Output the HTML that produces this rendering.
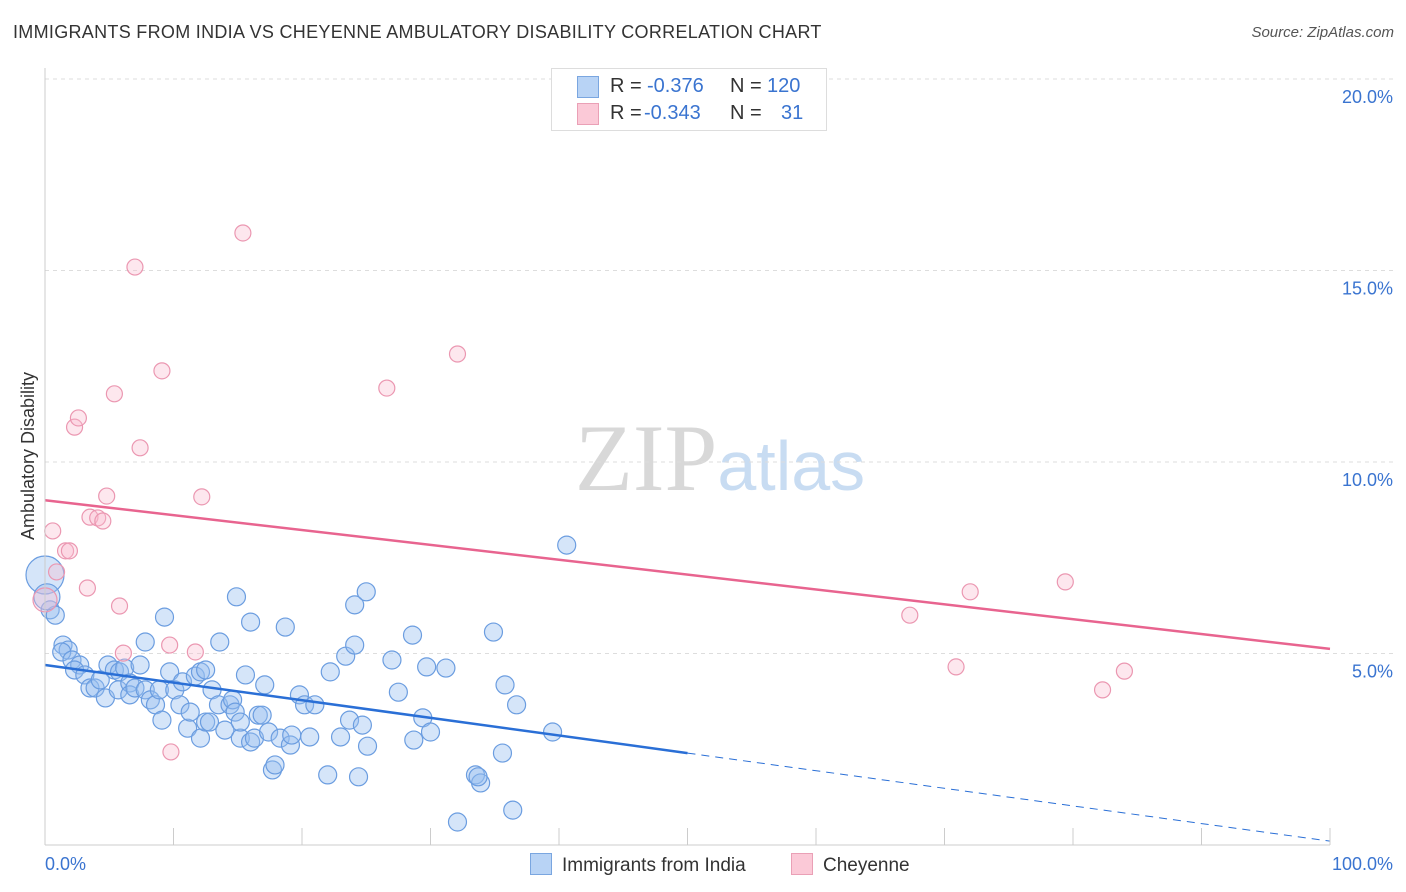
<!DOCTYPE html>
<html><head><meta charset="utf-8"><style>
html,body{margin:0;padding:0;background:#fff;width:1406px;height:892px;overflow:hidden}
body{font-family:"Liberation Sans",sans-serif;position:relative}
.t{position:absolute;white-space:nowrap}
.lg span{white-space:nowrap}
</style></head><body>
<div class="t" style="left:13px;top:22px;font-size:18px;color:#333;letter-spacing:0.3px">IMMIGRANTS FROM INDIA VS CHEYENNE AMBULATORY DISABILITY CORRELATION CHART</div>
<div class="t" style="right:12px;top:24px;font-size:15px;color:#555;font-style:italic">Source: ZipAtlas.com</div>
<svg id="chart" width="1406" height="892" style="position:absolute;left:0;top:0">
<text x="720" y="490" text-anchor="middle" font-family="Liberation Serif,serif" font-size="95" fill="#ddd"><tspan fill="#d8d8d8">ZIP</tspan><tspan font-family="Liberation Sans,sans-serif" font-size="70" fill="#c8dcf2">atlas</tspan></text>
<g id="grid"></g><g id="pts"></g><g id="lines"></g><g id="axes"></g>
<text x="34" y="456" transform="rotate(-90 34 456)" text-anchor="middle" font-size="18" fill="#333">Ambulatory Disability</text>
<text x="45" y="870" font-size="18" fill="#3a74d0">0.0%</text>
<text x="1393" y="870" text-anchor="end" font-size="18" fill="#3a74d0">100.0%</text>
</svg>
<div class="lg" style="position:absolute;left:551px;top:68px;width:274px;height:61px;border:1px solid #ddd;background:#fff;font-size:20px;color:#333">
 <div style="position:absolute;left:25px;top:6px;width:240px;height:24px"><span style="position:absolute;left:0;top:1px;width:20px;height:20px;background:#b8d3f5;border:1px solid #7aa6e0"></span><span style="position:absolute;left:33px;top:0">R =</span><span style="position:absolute;left:70px;color:#3a74d0">-0.376</span><span style="position:absolute;left:153px">N =</span><span style="position:absolute;left:190px;color:#3a74d0">120</span></div>
 <div style="position:absolute;left:25px;top:33px;width:240px;height:24px"><span style="position:absolute;left:0;top:1px;width:20px;height:20px;background:#fbc9d7;border:1px solid #eaa0b6"></span><span style="position:absolute;left:33px;top:0">R =</span><span style="position:absolute;left:67px;color:#3a74d0">-0.343</span><span style="position:absolute;left:153px">N =</span><span style="position:absolute;left:204px;color:#3a74d0">31</span></div>
</div>
<div style="position:absolute;left:530px;top:853px;font-size:19px;color:#333;white-space:nowrap"><span style="display:inline-block;width:20px;height:20px;background:#b8d3f5;border:1px solid #7aa6e0;vertical-align:-4px;margin-right:10px"></span>Immigrants from India</div>
<div style="position:absolute;left:791px;top:853px;font-size:19px;color:#333;white-space:nowrap"><span style="display:inline-block;width:20px;height:20px;background:#fbc9d7;border:1px solid #eaa0b6;vertical-align:-4px;margin-right:10px"></span>Cheyenne</div>
<script>
const yTicks=[5,10,15,20];
const yTickLabels=["5.0%","10.0%","15.0%","20.0%"];
const indiaX=[0,0.4,0.8,0.15,1.4,1.8,1.3,2.1,2.7,2.3,3.1,3.5,3.9,4.3,4.7,4.9,5.4,5.8,6.2,5.7,6.6,6.6,7.0,7.4,7.8,8.2,8.6,8.9,9.1,7.8,9.3,9.7,10.1,10.5,10.7,11.1,11.3,11.7,12.1,12.5,12.1,12.5,12.8,13.0,13.5,13.6,14.0,14.4,14.6,14.8,15.2,15.2,15.6,16.0,14.9,16.0,16.3,16.6,16.9,17.1,17.4,17.7,17.9,18.3,18.7,19.1,19.2,19.8,20.2,20.6,21.0,22.0,22.2,23.0,23.4,23.7,24.1,24.4,24.7,25.1,24.1,25.0,27.0,27.5,28.6,28.7,29.4,29.7,30.0,31.2,32.1,33.5,33.9,33.7,34.9,35.8,35.6,36.4,36.7,39.5,40.6];
const indiaY=[7.05,6.14,6.0,6.48,5.22,5.09,5.04,4.83,4.7,4.57,4.44,4.1,4.1,4.31,3.84,4.7,4.57,4.52,4.62,4.05,4.23,3.92,4.1,4.7,4.05,3.79,3.66,4.05,3.26,5.3,5.95,4.52,4.05,3.66,4.26,3.05,3.47,4.41,4.52,4.57,2.79,3.21,3.21,4.05,3.66,5.3,3.0,3.66,3.79,3.47,2.79,3.21,4.44,5.82,6.48,2.69,2.79,3.39,3.39,4.18,2.95,1.96,2.09,2.79,5.69,2.61,2.87,3.92,3.66,2.82,3.66,1.83,4.52,2.82,4.93,3.26,5.22,1.78,3.13,2.58,6.27,6.61,4.83,3.99,5.48,2.74,3.32,4.65,2.95,4.62,0.6,1.83,1.62,1.78,5.56,4.18,2.4,0.91,3.66,2.95,7.83];
const cheyX=[0,0.6,0.9,1.6,1.9,3.3,3.5,4.1,4.5,4.8,5.4,5.8,6.1,2.3,2.6,7.0,7.4,9.1,9.7,9.8,11.7,12.2,15.4,26.6,32.1,67.3,70.9,72.0,79.4,82.3,84.0];
const cheyY=[6.4,8.2,7.13,7.68,7.68,6.71,8.56,8.54,8.46,9.11,11.78,6.24,5.01,10.91,11.15,15.09,10.37,12.38,5.22,2.43,5.04,9.09,15.98,11.93,12.82,6.0,4.65,6.61,6.87,4.05,4.54];
const indiaTrend=[4.7,0.1];
const cheyTrend=[9.0,5.12];
const NS='http://www.w3.org/2000/svg';
const X=v=>45+v*12.85, Y=v=>845-v*38.3;
function mk(t,a,p){const e=document.createElementNS(NS,t);for(const k in a)e.setAttribute(k,a[k]);p.appendChild(e);return e;}
const grid=document.getElementById('grid'),pts=document.getElementById('pts'),lines=document.getElementById('lines'),axes=document.getElementById('axes');
yTicks.forEach((v,i)=>{
 const l=mk('line',{x1:45,x2:1393,y1:Y(v),y2:Y(v),stroke:'#ddd','stroke-dasharray':'4,4'},grid);
 
 
 const t=mk('text',{x:1393,y:Y(v)+24,'text-anchor':'end','font-size':18,fill:'#3a74d0'},axes);
 t.textContent=yTickLabels[i];
 
 
});
const ax=mk('line',{x1:45,x2:1330,y1:845,y2:845,stroke:'#ccc'},axes);


const ay=mk('line',{x1:45,x2:45,y1:68,y2:845,stroke:'#ccc'},axes);


for(let i=1;i<=10;i++){const tk=mk('line',{x1:X(i*10),x2:X(i*10),y1:828,y2:845,stroke:'#ccc'},axes);
 
 }
indiaX.forEach((x,i)=>{const r=(i===0)?19:(i===3?13:9);
 const c=mk('circle',{cx:X(x),cy:Y(indiaY[i]),r:r,fill:'rgba(150,190,240,0.4)',stroke:'#6b9de0','stroke-width':1.2},pts);
 
 });
cheyX.forEach((x,i)=>{const r=(i===0)?12:8;
 const c=mk('circle',{cx:X(x),cy:Y(cheyY[i]),r:r,fill:'rgba(248,185,205,0.35)',stroke:'#eb97b1','stroke-width':1.2},pts);
 
 });
const at=x=>indiaTrend[0]+(indiaTrend[1]-indiaTrend[0])*x/100;
const b1=mk('line',{x1:X(0),y1:Y(at(0)),x2:X(50),y2:Y(at(50)),stroke:'#2a6fd6','stroke-width':2.5},lines);


const b2=mk('line',{x1:X(50),y1:Y(at(50)),x2:X(100),y2:Y(at(100)),stroke:'#2a6fd6','stroke-width':1,'stroke-dasharray':'8,6'},lines);


const p1=mk('line',{x1:X(0),y1:Y(cheyTrend[0]),x2:X(100),y2:Y(cheyTrend[1]),stroke:'#e8648f','stroke-width':2.5},lines);


</script>
</body></html>
